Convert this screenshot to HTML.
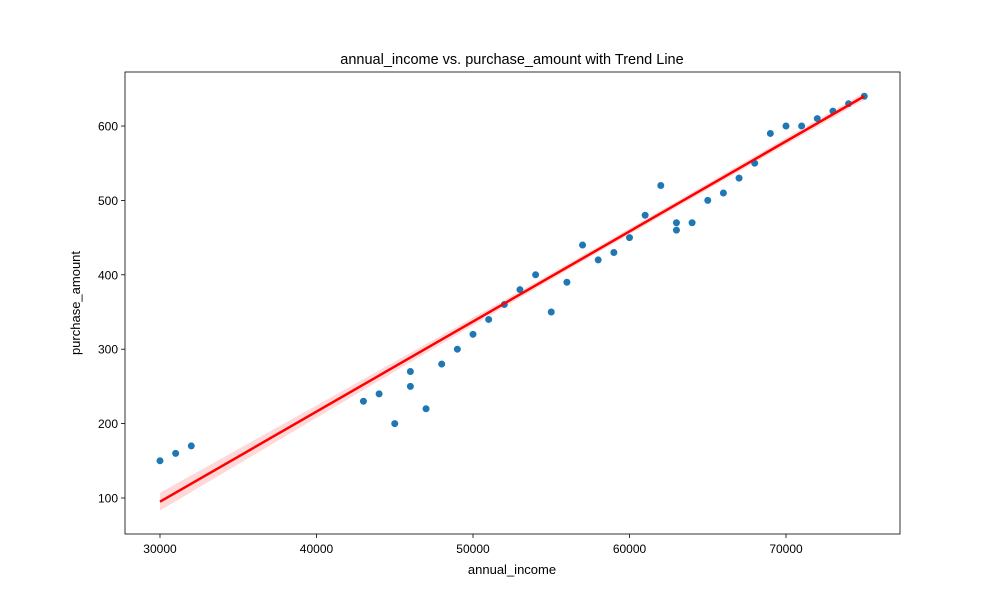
<!DOCTYPE html>
<html><head><meta charset="utf-8"><style>
body{margin:0;background:#fff;}
svg text{font-family:"Liberation Sans","DejaVu Sans",sans-serif;fill:#000;}
</style></head><body>
<svg id="chart" width="1000" height="600">
<rect width="1000" height="600" fill="#fff"/>
<text x="512" y="64" font-size="14.5" text-anchor="middle">annual_income vs. purchase_amount with Trend Line</text>
<g id="band"></g><g id="pts"></g><g id="line"></g><g id="axes"></g>
<text x="512" y="574" font-size="13" text-anchor="middle">annual_income</text>
<text x="80" y="303" font-size="13" text-anchor="middle" transform="rotate(-90 80 303)">purchase_amount</text>
</svg>
<script>
const incomes=[30000,31000,32000,43000,44000,45000,46000,46000,47000,48000,49000,50000,51000,52000,53000,54000,55000,56000,57000,58000,59000,60000,61000,62000,63000,63000,64000,65000,66000,67000,68000,69000,70000,71000,72000,73000,74000,75000];
const purchases=[150,160,170,230,240,200,270,250,220,280,300,320,340,360,380,400,350,390,440,420,430,450,480,520,470,460,470,500,510,530,550,590,600,600,610,620,630,640];
const trendX=[30000,75000];
const trendY=[95,640];
const bandHalfWidth=[12,4,5];
const xTicks=[30000,40000,50000,60000,70000];
const yTicks=[100,200,300,400,500,600];
const L=125,R=900,T=72,B=534;
const xMin=27764,xMax=77284,yMin=51.6,yMax=672.6;
const sx=v=>L+(v-xMin)/(xMax-xMin)*(R-L);
const sy=v=>B-(v-yMin)/(yMax-yMin)*(B-T);
const NS="http://www.w3.org/2000/svg";
function mk(tag,attrs,parent){const e=document.createElementNS(NS,tag);for(const k in attrs)e.setAttribute(k,attrs[k]);document.getElementById(parent).appendChild(e);return e;}
const x0=trendX[0],x1=trendX[1];
const slope=(trendY[1]-trendY[0])/(x1-x0);
const fy=x=>trendY[0]+slope*(x-x0);
// band: quadratic-like width shape from start/mid/end half widths
const xm=(x0+x1)/2+6000;
function hw(x){
  const u=(x-xm)/((x<xm)?(xm-x0):(x1-xm));
  const end=(x<xm)?bandHalfWidth[0]:bandHalfWidth[2];
  return Math.sqrt(bandHalfWidth[1]**2+(end**2-bandHalfWidth[1]**2)*u*u);
}
let up=[],lo=[];
for(let k=0;k<=60;k++){const x=x0+(x1-x0)*k/60;const y=fy(x);const h=hw(x);up.push(sx(x)+","+sy(y+h));lo.unshift(sx(x)+","+sy(y-h));}
const band=mk('polygon',{points:up.concat(lo).join(" "),fill:"#ff0000","fill-opacity":"0.15",stroke:"none"},'band');


for(let i=0;i<incomes.length;i++){const c=mk('circle',{cx:sx(incomes[i]),cy:sy(purchases[i]),r:3.8,fill:"#1f77b4",stroke:"#fff","stroke-width":0.6},'pts');

}
const ln=mk('line',{x1:sx(x0),y1:sy(fy(x0)),x2:sx(x1),y2:sy(fy(x1)),stroke:"#ff0000","stroke-width":2.5},'line');


const fr=mk('rect',{x:L,y:T,width:R-L,height:B-T,fill:"none",stroke:"#000","stroke-width":0.8},'axes');


xTicks.forEach(v=>{mk('line',{x1:sx(v),x2:sx(v),y1:B,y2:B+4,stroke:"#000","stroke-width":0.8},'axes');
const tx=mk('text',{x:sx(v),y:B+19,"font-size":12,"text-anchor":"middle"},'axes');tx.textContent=v;

});
yTicks.forEach(v=>{mk('line',{x1:L-4,x2:L,y1:sy(v),y2:sy(v),stroke:"#000","stroke-width":0.8},'axes');
const tx=mk('text',{x:L-7,y:sy(v)+4.5,"font-size":12,"text-anchor":"end"},'axes');tx.textContent=v;

});
</script>
</body></html>
